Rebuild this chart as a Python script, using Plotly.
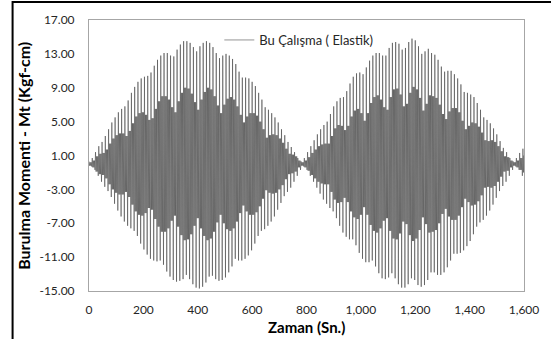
import plotly.graph_objects as go

# ---- values ----
series_name = "Bu Çalışma ( Elastik)"
cycle_seconds = 12  # spacing of the visible oscillation peaks (Sn.)

# positive peak of every oscillation cycle (Kgf-cm)
upper_peaks = [
    0.3, 0.7, 1.4, 2.1, 2.6, 3.3, 4.1, 4.9, 5.5, 6.1, 6.5, 6.8, 7.5, 8.4, 9.1, 9.7,
    10.1, 10.3, 10.4, 10.8, 11.6, 12.3, 12.8, 13.1, 13.1, 12.8, 12.7, 13.5, 14.1, 14.5,
    14.5, 14.3, 13.8, 13.3, 13.9, 14.3, 14.5, 14.3, 13.8, 13.1, 12.5, 12.8, 13.0, 12.8,
    12.4, 11.8, 10.9, 10.2, 10.2, 10.1, 9.7, 9.2, 8.4, 7.6, 6.7, 6.4, 6.0, 5.5, 4.9,
    4.1, 3.4, 2.6, 2.0, 1.4, 0.7,
    0.3, 0.7, 1.4, 2.1, 2.8, 3.5, 4.1, 4.6, 5.0, 5.9, 6.8, 7.4, 7.8, 7.9, 8.6, 9.5,
    10.3, 10.7, 10.8, 10.6, 11.4, 12.2, 12.8, 13.1, 13.1, 12.8, 12.8, 13.7, 14.3, 14.4,
    14.2, 13.5, 13.7, 14.4, 14.8, 14.6, 13.9, 13.0, 13.3, 13.6, 13.1, 12.9, 12.3, 11.5,
    10.9, 11.0, 11.0, 10.6, 10.1, 9.4, 8.5, 8.4, 8.2, 7.9, 7.2, 6.4, 5.5, 5.2, 4.8,
    4.2, 3.5, 2.7, 1.9, 1.4, 0.7, 0.3, 0.7, 1.3, 1.8,
]

# negative peak of every oscillation cycle (Kgf-cm)
lower_peaks = [
    -0.3, -0.7, -1.4, -2.1, -2.7, -3.2, -3.9, -4.7, -5.5, -6.2, -6.8, -7.3, -7.6, -7.9,
    -8.5, -9.4, -10.1, -10.7, -11.2, -11.4, -11.5, -11.4, -11.9, -12.7, -13.3, -13.7,
    -13.9, -13.8, -13.6, -13.1, -13.6, -14.2, -14.6, -14.7, -14.5, -14.0, -13.3, -13.2,
    -13.6, -13.8, -13.7, -13.4, -12.8, -12.1, -11.2, -11.4, -11.4, -11.2, -10.8, -10.2,
    -9.4, -8.5, -7.9, -7.7, -7.3, -6.8, -6.2, -5.4, -4.6, -3.8, -3.3, -2.8, -2.1, -1.4,
    -0.7,
    -0.3, -0.7, -1.4, -2.1, -2.8, -3.5, -4.2, -4.7, -5.2, -5.6, -6.4, -7.3, -8.1, -8.6,
    -8.9, -8.9, -9.6, -10.5, -11.2, -11.6, -11.6, -11.4, -12.1, -12.9, -13.5, -13.6,
    -13.4, -12.9, -13.5, -14.2, -14.6, -14.6, -14.2, -13.5, -13.7, -14.3, -14.5, -14.3,
    -13.7, -12.8, -12.8, -13.1, -13.1, -12.8, -12.2, -11.4, -10.6, -10.6, -10.5, -10.2,
    -9.7, -9.1, -8.3, -7.4, -6.9, -6.6, -6.1, -5.5, -4.8, -4.0, -3.2, -2.6, -2.1, -1.4,
    -0.7, -0.3, -0.7, -1.4, -1.6,
]

# half-height of the dense (dark) core band in every cycle (Kgf-cm)
core_levels = [
    0.2, 0.4, 0.9, 1.2, 1.3, 1.7, 2.4, 3.0, 3.4, 3.6, 3.6, 3.3, 3.9, 4.8, 5.6, 6.0,
    6.1, 5.8, 5.2, 5.4, 6.5, 7.4, 8.0, 8.0, 7.6, 6.7, 6.1, 7.4, 8.4, 9.0, 8.9, 8.3,
    7.3, 6.4, 7.6, 8.5, 9.0, 8.8, 8.0, 6.9, 6.0, 7.0, 7.7, 7.9, 7.6, 6.8, 5.8, 4.9,
    5.6, 6.0, 6.0, 5.7, 5.0, 4.1, 3.1, 3.4, 3.5, 3.4, 3.0, 2.5, 1.8, 1.2, 1.1, 0.9, 0.4,
    0.2, 0.4, 0.8, 1.3, 1.7, 2.1, 2.3, 2.4, 2.4, 3.3, 4.2, 4.6, 4.5, 4.0, 4.5, 5.6,
    6.3, 6.5, 6.0, 5.1, 6.0, 7.2, 7.9, 8.1, 7.6, 6.7, 6.4, 7.9, 8.8, 8.9, 8.2, 6.8,
    7.1, 8.4, 9.1, 8.8, 7.8, 6.3, 7.1, 8.1, 8.0, 7.8, 7.0, 5.9, 5.3, 6.2, 6.6, 6.6,
    6.1, 5.1, 4.1, 4.5, 4.9, 4.8, 4.4, 3.7, 2.8, 2.7, 2.8, 2.6, 2.1, 1.5, 0.9, 0.8, 0.4,
    0.2, 0.4, 0.7, 1.0,
]

x_tick_values = [0, 200, 400, 600, 800, 1000, 1200, 1400, 1600]
x_tick_labels = ["0", "200", "400", "600", "800", "1,000", "1,200", "1,400", "1,600"]
y_tick_values = [-15, -11, -7, -3, 1, 5, 9, 13, 17]
y_tick_labels = ["-15.00", "-11.00", "-7.00", "-3.00", "1.00", "5.00", "9.00", "13.00", "17.00"]

x_title = "Zaman (Sn.)"
y_title = "Burulma Momenti - Mt (Kgf-cm)"

# ---- build the time series: each cycle = +peak, core wiggle, -peak ----
times, values = [], []
step = cycle_seconds / 6
for i, (u, lo, c) in enumerate(zip(upper_peaks, lower_peaks, core_levels)):
    base = cycle_seconds * i
    seq = [u, -c, c, -c, c, lo]
    for k, v in enumerate(seq):
        times.append(base + k * step)
        values.append(v)

FONT = "Lato"
W, H = 551, 339
ML, MR, MT, MB = 89, 18, 20, 48
pw, ph = W - ML - MR, H - MT - MB

def px_x(p):
    return (p - ML) / pw

def px_y(p):
    return (H - MB - p) / ph

fig = go.Figure()
fig.add_trace(go.Scatter(
    x=times, y=values, mode="lines", name=series_name,
    line=dict(color="#3c3c3c", width=0.55),
    showlegend=True,
))

axis_common = dict(
    showgrid=False, zeroline=False, showline=True, linecolor="#a6a6a6",
    linewidth=1, mirror=True, ticks="outside", tickcolor="rgba(0,0,0,0)",
    tickfont=dict(family=FONT, size=12, color="#262626"),
)

fig.update_layout(
    width=W, height=H,
    margin=dict(l=ML, r=MR, t=MT, b=MB),
    paper_bgcolor="white", plot_bgcolor="white",
    showlegend=True,
    legend=dict(
        x=px_x(222), xanchor="left", y=px_y(40), yanchor="middle",
        bgcolor="rgba(0,0,0,0)", font=dict(family=FONT, size=13, color="#262626"),
        itemwidth=30,
    ),
    xaxis=dict(range=[0, 1600], tickvals=x_tick_values, ticktext=x_tick_labels,
               ticklen=8, **axis_common),
    yaxis=dict(range=[-15, 17], tickvals=y_tick_values, ticktext=y_tick_labels,
               ticklen=11, **axis_common),
    annotations=[
        dict(text="<b>" + y_title + "</b>", textangle=-90, xref="paper", yref="paper",
             x=px_x(22), y=0.5, xanchor="center", yanchor="middle", showarrow=False,
             font=dict(family=FONT, size=16, color="black")),
        dict(text="<b>" + x_title + "</b>", xref="paper", yref="paper",
             x=0.5, y=px_y(327), xanchor="center", yanchor="middle", showarrow=False,
             font=dict(family=FONT, size=15, color="black")),
    ],
    shapes=[
        dict(type="rect", xref="paper", yref="paper",
             x0=px_x(11), x1=px_x(W + 20), y0=px_y(H + 20), y1=px_y(2),
             line=dict(color="black", width=2), fillcolor="rgba(0,0,0,0)", layer="above"),
    ],
)

fig.write_html(
    "out.html",
    config={"displayModeBar": False},
    post_script="document.body.style.margin='0px';document.body.style.overflow='hidden';",
)
